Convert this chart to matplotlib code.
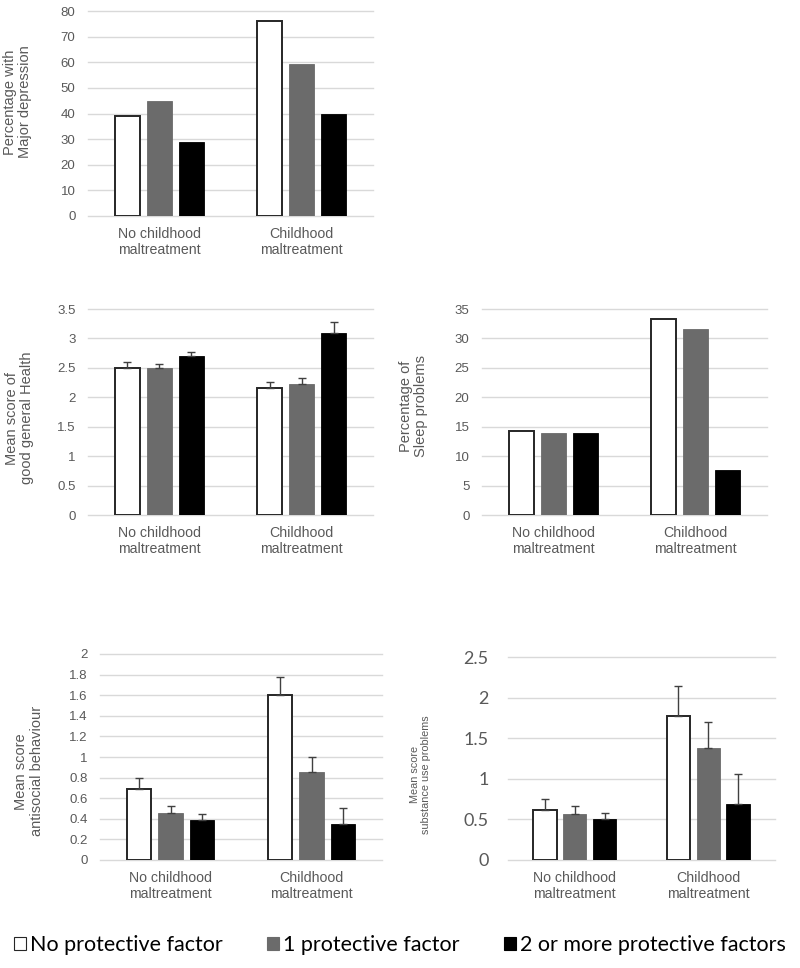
import matplotlib
matplotlib.use('Agg')
import matplotlib.pyplot as plt
import numpy as np
from matplotlib.patches import Patch

groups = ['No childhood\nmaltreatment', 'Childhood\nmaltreatment']
series = ['No protective factor', '1 protective factor', '2 or more protective factors']

# values per series: [no maltreatment, maltreatment]
depression = [[39, 76], [45, 59.4], [29, 40]]

health = [[2.5, 2.15], [2.5, 2.22], [2.7, 3.1]]
health_err = [[0.1, 0.11], [0.06, 0.11], [0.07, 0.18]]

sleep = [[14.2, 33.3], [13.9, 31.6], [14.0, 7.7]]

antisocial = [[0.69, 1.6], [0.46, 0.855], [0.39, 0.35]]
antisocial_err = [[0.11, 0.18], [0.065, 0.145], [0.06, 0.155]]

substance = [[0.62, 1.77], [0.57, 1.38], [0.5, 0.69]]
substance_err = [[0.13, 0.37], [0.1, 0.32], [0.075, 0.37]]

W, H = 800, 968
TXT = '#595959'
face = ['white', '#6b6b6b', 'black']
edge = ['#262626', '#6b6b6b', 'black']

fig = plt.figure(figsize=(W / 100, H / 100), dpi=100)


def px_axes(l, t, r, b):
    return fig.add_axes([l / W, 1 - b / H, (r - l) / W, (b - t) / H])


def draw(ax, vals, errs, ymax, step, ylabel, lab_xy, big_ticks=False, lab_size=10.5):
    x = np.arange(len(groups))
    width = 0.175
    offs = [-0.224, 0, 0.224]
    for i in range(3):
        ax.bar(x + offs[i], vals[i], width, color=face[i], edgecolor=edge[i],
               linewidth=1.4 if i == 0 else 0.6, zorder=3)
        if errs is not None:
            ax.errorbar(x + offs[i], vals[i], yerr=[np.zeros(2), errs[i]], fmt='none',
                        ecolor='#404040', elinewidth=1.0, capsize=3, capthick=1.0, zorder=4)
    ax.set_xlim(-0.5, 1.5)
    ax.set_ylim(0, ymax)
    ticks = np.arange(0, ymax + step / 2, step)
    ax.set_yticks(ticks)
    ax.set_yticklabels(['%g' % t for t in ticks])
    ax.set_xticks(x)
    ax.set_xticklabels(groups)
    for t in ticks:
        ax.axhline(t, color='#d9d9d9', linewidth=1.0, zorder=1, clip_on=False)
    for s in ax.spines.values():
        s.set_visible(False)
    ax.tick_params(length=0, colors=TXT)
    ax.tick_params(axis='x', labelsize=10.2, pad=8)
    if big_ticks:
        ax.tick_params(axis='y', pad=14)
        for lab in ax.get_yticklabels():
            lab.set_fontfamily('Lato')
            lab.set_fontsize(13)
    else:
        ax.tick_params(axis='y', labelsize=9.5, pad=9)
    ax.set_ylabel(ylabel, color=TXT, fontsize=lab_size, linespacing=1.1)
    ax.yaxis.set_label_coords(*lab_xy)


plt.rcParams['font.family'] = ['Liberation Sans', 'DejaVu Sans']

ax1 = px_axes(88, 11, 373, 216)
draw(ax1, depression, None, 80, 10, 'Percentage with\nMajor depression', (-0.195, 0.556))

ax2 = px_axes(88, 309, 373, 515)
draw(ax2, health, health_err, 3.5, 0.5, 'Mean score of\ngood general Health', (-0.19, 0.47))

ax3 = px_axes(482, 309, 767, 515)
draw(ax3, sleep, None, 35, 5, 'Percentage of\nSleep problems', (-0.19, 0.53))

ax4 = px_axes(100, 654, 382, 860)
draw(ax4, antisocial, antisocial_err, 2, 0.2, 'Mean score\nantisocial behaviour', (-0.2, 0.43))

ax5 = px_axes(508, 657, 775, 860)
draw(ax5, substance, substance_err, 2.5, 0.5, 'Mean score\nsubstance use problems', (-0.29, 0.42),
     big_ticks=True, lab_size=7.8)

handles = [Patch(facecolor=face[i], edgecolor='#262626' if i == 0 else edge[i], linewidth=0.8)
           for i in range(3)]
fig.legend(handles, series, loc='center', bbox_to_anchor=(0.5, 1 - 945 / H), ncol=3,
           frameon=False, prop={'family': 'Lato', 'size': 15.5}, handlelength=0.56,
           handleheight=0.56, handletextpad=0.19, columnspacing=2.05, labelcolor='black')

fig.savefig('out.png', dpi=100)
